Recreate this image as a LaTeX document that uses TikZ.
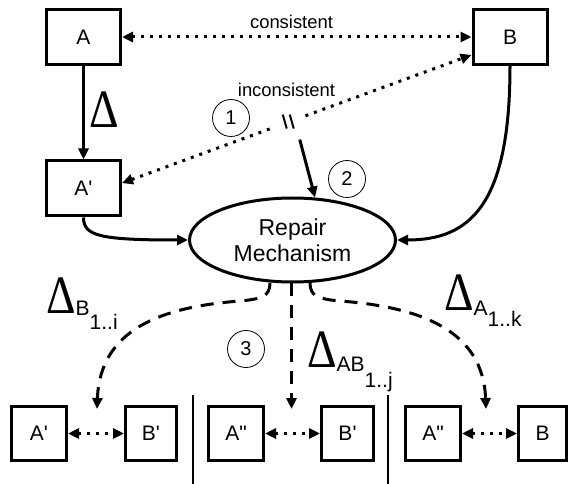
\documentclass[tikz,border=0pt]{standalone}
\usepackage{fontspec}
\setmainfont{Liberation Sans}[Ligatures=TeXOff]
\newfontfamily\deltafont{Liberation Serif}
\usetikzlibrary{arrows.meta,shapes.geometric,calc}

% a large Delta, slightly narrowed
\newcommand{\bigdelta}{{\deltafont\fontsize{54}{54}\selectfont\scalebox{0.85}[1]{Δ}}}

\begin{document}
\begin{tikzpicture}[x=1pt,y=-1pt,
  box/.style={draw,line width=3pt,minimum width=74pt,minimum height=55pt,inner sep=0pt,
    font=\fontsize{21}{21}\selectfont},
  sbox/.style={draw,line width=3pt,minimum width=54pt,minimum height=54pt,inner sep=0pt,
    font=\fontsize{21}{21}\selectfont},
  num/.style={circle,draw,line width=0.8pt,minimum size=37pt,inner sep=0pt,
    font=\fontsize{20}{20}\selectfont},
  solidarrow/.style={line width=3pt,-{Triangle[length=11pt,width=10pt]}},
  dots/.style={line width=3pt,dash pattern=on 3pt off 6pt},
  dashes/.style={line width=3pt,dash pattern=on 13pt off 9pt},
  tipend/.style={-{Triangle[length=11pt,width=10pt]}},
  tipstart/.style={{Triangle[length=11pt,width=10pt]}-},
  tipboth/.style={{Triangle[length=11pt,width=10pt]}-{Triangle[length=11pt,width=10pt]}},
  lbl/.style={inner sep=0pt,font=\fontsize{18.4}{18.4}\selectfont},
  delta/.style={anchor=base west,inner sep=0pt},
]
\useasboundingbox (0,0) rectangle (571,484);

% top row and the modified model
\node[box] (A)  at (83.5,37)  {A};
\node[box] (B)  at (510,37)   {B};
\node[box] (Ap) at (83.5,188.5) {A'};

% repair mechanism
\node[ellipse,draw,line width=3pt,minimum width=206pt,minimum height=84pt,inner sep=0pt,
  align=center,font=\fontsize{23}{26}\selectfont] (rm) at (292.5,240) {Repair\\Mechanism};

% step markers
\node[num] (c1) at (231,118) {1};
\node[num] (c2) at (347,179) {2};
\node[num] (c3) at (246,349) {3};

% consistency relation
\draw[dots,tipboth] (A.east) -- (B.west);
\node[lbl,anchor=base] (lcons) at (291.5,29) {consistent};

% broken relation after the change
\coordinate (i1) at ($(Ap.8)!0.435!(B.205)$);
\coordinate (i2) at ($(Ap.8)!0.525!(B.205)$);
\coordinate (brk) at ($(Ap.8)!0.48!(B.205)$);
\draw[dots,tipstart] (Ap.8) -- (i1);
\draw[dots,tipend] (i2) -- (B.205);
\draw[line width=2pt] ($(brk)+(-7,-7)$) -- ($(brk)+(-3,7)$);
\draw[line width=2pt] ($(brk)+(0,-7)$) -- ($(brk)+(4,7)$);
\node[lbl,anchor=base] (lincons) at (286.5,97) {inconsistent};
\coordinate (trig) at ($(brk)+(10,18)$);
\draw[solidarrow] (trig) -- (rm.62);

% the change
\draw[solidarrow] (A.south) -- (Ap.north);
\node[delta] (d0) at (89,128) {\bigdelta};

% inputs of the repair
\draw[solidarrow] (Ap.south) .. controls (83.5,236) and (100,240) .. (rm.west);
\draw[solidarrow] (B.south) .. controls (510,205) and (470,240) .. (rm.east);

% bottom alternatives
\node[sbox,minimum width=55pt] (b1) at (39,433.5)  {A'};
\node[sbox,minimum width=51pt] (b2) at (151,433.5) {B'};
\node[sbox,minimum width=55pt] (b3) at (236,433.5) {A"};
\node[sbox,minimum width=52pt] (b4) at (347.5,433.5) {B'};
\node[sbox,minimum width=55pt] (b5) at (433,433.5) {A"};
\node[sbox,minimum width=48pt] (b6) at (542.5,433.5) {B};

\draw[dots,tipboth] (b1.east) -- (b2.west);
\draw[dots,tipboth] (b3.east) -- (b4.west);
\draw[dots,tipboth] (b5.east) -- (b6.west);

\coordinate (s1a) at (193,395); \coordinate (s1b) at (193,484);
\coordinate (s2a) at (388,395); \coordinate (s2b) at (388,484);
\draw[line width=2.5pt] (s1a) -- (s1b);
\draw[line width=2.5pt] (s2a) -- (s2b);

% repair alternatives
\coordinate (o1) at (270,283);
\coordinate (o2) at (291.5,283);
\coordinate (o3) at (310,283);
\coordinate (t1) at (97,409);
\coordinate (t2) at (291.5,409);
\coordinate (t3) at (486,409);
\draw[dashes,tipend] (o1) .. controls (270,296) and (262,299) .. (240,301)
  .. controls (160,307) and (100,330) .. (t1);
\draw[dashes,tipend] (o2) -- (t2);
\draw[dashes,tipend] (o3) .. controls (310,296) and (318,299) .. (340,301)
  .. controls (420,307) and (483,330) .. (t3);

\node[delta] (dB) at (46,313) {\bigdelta\fontsize{21}{21}\selectfont
  \raisebox{-2pt}{B\raisebox{-14pt}{1..i}}};
\node[delta] (dAB) at (307,367) {\bigdelta\fontsize{21}{21}\selectfont
  \raisebox{-4pt}{AB\raisebox{-16pt}{1..j}}};
\node[delta] (dA) at (444,310) {\bigdelta\fontsize{21}{21}\selectfont
  \raisebox{-5pt}{A\raisebox{-12pt}{1..k}}};
\end{tikzpicture}
\end{document}
